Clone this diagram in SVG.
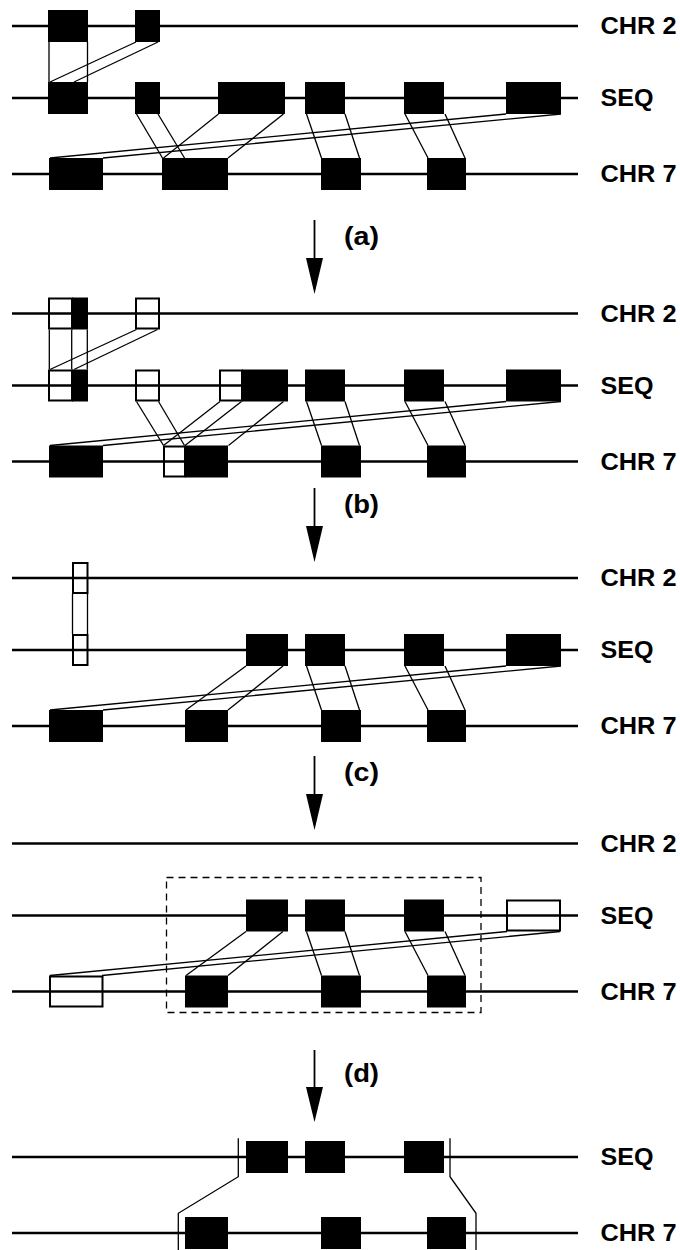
<svg xmlns="http://www.w3.org/2000/svg" width="680" height="1250" viewBox="0 0 680 1250">
  <style>
    .axis { stroke: #000; stroke-width: 2.3; fill: none; }
    .link { stroke: #000; stroke-width: 1.3; fill: none; }
    .blk { fill: #000; }
    .hollow { fill: none; stroke: #000; stroke-width: 2; }
    .lbl { font-family: "Liberation Sans", Arial, sans-serif; font-weight: bold; font-size: 23px; fill: #000; }
    .step { font-family: "Liberation Sans", Arial, sans-serif; font-weight: bold; font-size: 26px; fill: #000; }
    .shaft { stroke: #000; stroke-width: 1.8; }
    .dash { fill: none; stroke: #000; stroke-width: 1.3; stroke-dasharray: 7 5; }
  </style>
  <defs>
    <!-- shared track lines: CHR 2 at y=26, SEQ at y=98, CHR 7 at y=174 (panel-local) -->
    <line id="trkChr2" class="axis" x1="12" y1="26" x2="578" y2="26"/>
    <line id="trkSeq" class="axis" x1="12" y1="98" x2="578" y2="98"/>
    <line id="trkChr7" class="axis" x1="12" y1="174" x2="578" y2="174"/>
    <text id="lblChr2" class="lbl" x="600.5" y="34" textLength="76" lengthAdjust="spacingAndGlyphs">CHR 2</text>
    <text id="lblSeq" class="lbl" x="600.5" y="106" textLength="53" lengthAdjust="spacingAndGlyphs">SEQ</text>
    <text id="lblChr7" class="lbl" x="600.5" y="182" textLength="76" lengthAdjust="spacingAndGlyphs">CHR 7</text>
  </defs>

  <!-- ===== Panel 1 ===== -->
  <g id="panel1">
    <use href="#trkChr2"/><use href="#trkSeq"/><use href="#trkChr7"/>
    <use href="#lblChr2"/><use href="#lblSeq"/><use href="#lblChr7"/>
    <g id="p1-connectors">
      <line class="link" x1="49" y1="42" x2="49" y2="82"/>
      <line class="link" x1="87.5" y1="42" x2="87.5" y2="82"/>
      <line class="link" x1="136" y1="42" x2="50" y2="82"/>
      <line class="link" x1="158" y1="42" x2="74" y2="82"/>
      <line class="link" x1="136.5" y1="114" x2="162.5" y2="158"/>
      <line class="link" x1="158" y1="114" x2="184.5" y2="158"/>
      <line class="link" x1="218.5" y1="114" x2="163.5" y2="158"/>
      <line class="link" x1="283.5" y1="114" x2="228" y2="158"/>
      <line class="link" x1="306.5" y1="114" x2="321.5" y2="158"/>
      <line class="link" x1="345" y1="114" x2="359.5" y2="158"/>
      <line class="link" x1="405" y1="114" x2="428" y2="158"/>
      <line class="link" x1="445" y1="114" x2="465" y2="158"/>
      <line class="link" x1="506" y1="114" x2="50" y2="158"/>
      <line class="link" x1="561" y1="114" x2="103" y2="158"/>
    </g>
    <g id="p1-chr2">
      <rect id="p1-c2-1" class="blk" x="48" y="10" width="40" height="32"/>
      <rect id="p1-c2-2" class="blk" x="135" y="10" width="25" height="32"/>
    </g>
    <g id="p1-seq">
      <rect id="p1-s-A" class="blk" x="48" y="82" width="40" height="32"/>
      <rect id="p1-s-B" class="blk" x="135" y="82" width="25" height="32"/>
      <rect id="p1-s-C" class="blk" x="218" y="82" width="67" height="32"/>
      <rect id="p1-s-D" class="blk" x="305" y="82" width="40" height="32"/>
      <rect id="p1-s-E" class="blk" x="404" y="82" width="40" height="32"/>
      <rect id="p1-s-F" class="blk" x="506" y="82" width="55" height="32"/>
    </g>
    <g id="p1-chr7">
      <rect id="p1-c7-a" class="blk" x="49" y="158" width="54" height="32"/>
      <rect id="p1-c7-b" class="blk" x="162" y="158" width="66" height="32"/>
      <rect id="p1-c7-c" class="blk" x="321" y="158" width="40" height="32"/>
      <rect id="p1-c7-d" class="blk" x="427" y="158" width="39" height="32"/>
    </g>
  </g>

  <!-- step arrow (a) -->
  <g id="arrow-a">
    <line class="shaft" x1="314.5" y1="220" x2="314.5" y2="260"/>
    <polygon points="306,258 323,258 314.5,294" fill="#000"/>
    <text class="step" x="344" y="244.5" textLength="35" lengthAdjust="spacingAndGlyphs">(a)</text>
  </g>

  <!-- ===== Panel 2 ===== -->
  <g id="panel2" transform="translate(0,287.5)">
    <use href="#trkChr2"/><use href="#trkSeq"/><use href="#trkChr7"/>
    <use href="#lblChr2"/><use href="#lblSeq"/><use href="#lblChr7"/>
    <g id="p2-connectors">
      <line class="link" x1="49.3" y1="42" x2="49.3" y2="82"/>
      <line class="link" x1="71.7" y1="42" x2="71.7" y2="82"/>
      <line class="link" x1="87.3" y1="42" x2="87.3" y2="82"/>
      <line class="link" x1="136.5" y1="42" x2="50" y2="82"/>
      <line class="link" x1="157.5" y1="42" x2="74" y2="82"/>
      <line class="link" x1="136.5" y1="114" x2="163.5" y2="158"/>
      <line class="link" x1="158.5" y1="114" x2="184.5" y2="158"/>
      <line class="link" x1="220" y1="114" x2="163.5" y2="158"/>
      <line class="link" x1="241.5" y1="114" x2="185" y2="158"/>
      <line class="link" x1="283.5" y1="114" x2="228.5" y2="158"/>
      <line class="link" x1="306.5" y1="114" x2="321.5" y2="158"/>
      <line class="link" x1="345" y1="114" x2="359.5" y2="158"/>
      <line class="link" x1="405" y1="114" x2="428" y2="158"/>
      <line class="link" x1="445" y1="114" x2="465" y2="158"/>
      <line class="link" x1="506" y1="114" x2="50" y2="158"/>
      <line class="link" x1="561" y1="114" x2="103" y2="158"/>
    </g>
    <g id="p2-chr2">
      <rect id="p2-c2-1b" class="blk" x="72" y="10" width="16" height="32"/>
      <rect id="p2-c2-1w" class="hollow" x="49" y="11" width="23" height="30"/>
      <rect id="p2-c2-2w" class="hollow" x="136" y="11" width="23" height="30"/>
    </g>
    <g id="p2-seq">
      <rect id="p2-s-Ab" class="blk" x="72" y="82" width="16" height="32"/>
      <rect id="p2-s-Aw" class="hollow" x="49" y="83" width="23" height="30"/>
      <rect id="p2-s-Bw" class="hollow" x="136" y="83" width="23" height="30"/>
      <rect id="p2-s-Cb" class="blk" x="242" y="82" width="46" height="32"/>
      <rect id="p2-s-Cw" class="hollow" x="220" y="83" width="22" height="30"/>
      <rect id="p2-s-D" class="blk" x="305" y="82" width="40" height="32"/>
      <rect id="p2-s-E" class="blk" x="404" y="82" width="40" height="32"/>
      <rect id="p2-s-F" class="blk" x="506" y="82" width="55" height="32"/>
    </g>
    <g id="p2-chr7">
      <rect id="p2-c7-a" class="blk" x="49" y="158" width="54" height="32"/>
      <rect id="p2-c7-bb" class="blk" x="185" y="158" width="43" height="32"/>
      <rect id="p2-c7-bw" class="hollow" x="164" y="159" width="21" height="30"/>
      <rect id="p2-c7-c" class="blk" x="321" y="158" width="40" height="32"/>
      <rect id="p2-c7-d" class="blk" x="427" y="158" width="39" height="32"/>
    </g>
  </g>

  <!-- step arrow (b) -->
  <g id="arrow-b">
    <line class="shaft" x1="314.5" y1="488" x2="314.5" y2="528"/>
    <polygon points="306,526 323,526 314.5,562" fill="#000"/>
    <text class="step" x="344" y="512.5" textLength="35" lengthAdjust="spacingAndGlyphs">(b)</text>
  </g>

  <!-- ===== Panel 3 ===== -->
  <g id="panel3" transform="translate(0,552)">
    <use href="#trkChr2"/><use href="#trkSeq"/><use href="#trkChr7"/>
    <use href="#lblChr2"/><use href="#lblSeq"/><use href="#lblChr7"/>
    <g id="p3-connectors">
      <line class="link" x1="72.5" y1="42" x2="72.5" y2="82"/>
      <line class="link" x1="87.5" y1="42" x2="87.5" y2="82"/>
      <line class="link" x1="246" y1="114" x2="186" y2="158"/>
      <line class="link" x1="283" y1="114" x2="228" y2="158"/>
      <line class="link" x1="306.5" y1="114" x2="321.5" y2="158"/>
      <line class="link" x1="345" y1="114" x2="359.5" y2="158"/>
      <line class="link" x1="405" y1="114" x2="428" y2="158"/>
      <line class="link" x1="445" y1="114" x2="465" y2="158"/>
      <line class="link" x1="506" y1="114" x2="50" y2="158"/>
      <line class="link" x1="561" y1="114" x2="103" y2="158"/>
    </g>
    <g id="p3-chr2">
      <rect id="p3-c2-w" class="hollow" x="73" y="11" width="14.5" height="30"/>
    </g>
    <g id="p3-seq">
      <rect id="p3-s-w" class="hollow" x="73" y="83" width="14.5" height="30"/>
      <rect id="p3-s-C" class="blk" x="246" y="82" width="42" height="32"/>
      <rect id="p3-s-D" class="blk" x="305" y="82" width="40" height="32"/>
      <rect id="p3-s-E" class="blk" x="404" y="82" width="40" height="32"/>
      <rect id="p3-s-F" class="blk" x="506" y="82" width="55" height="32"/>
    </g>
    <g id="p3-chr7">
      <rect id="p3-c7-a" class="blk" x="49" y="158" width="54" height="32"/>
      <rect id="p3-c7-b" class="blk" x="185" y="158" width="43" height="32"/>
      <rect id="p3-c7-c" class="blk" x="321" y="158" width="40" height="32"/>
      <rect id="p3-c7-d" class="blk" x="427" y="158" width="39" height="32"/>
    </g>
  </g>

  <!-- step arrow (c) -->
  <g id="arrow-c">
    <line class="shaft" x1="314.5" y1="756" x2="314.5" y2="796"/>
    <polygon points="306,794 323,794 314.5,830" fill="#000"/>
    <text class="step" x="344" y="780.5" textLength="35" lengthAdjust="spacingAndGlyphs">(c)</text>
  </g>

  <!-- ===== Panel 4 ===== -->
  <g id="panel4" transform="translate(0,817.5)">
    <use href="#trkChr2"/><use href="#trkSeq"/><use href="#trkChr7"/>
    <use href="#lblChr2"/><use href="#lblSeq"/><use href="#lblChr7"/>
    <rect id="p4-region" class="dash" x="166.5" y="60" width="314.5" height="135"/>
    <g id="p4-connectors">
      <line class="link" x1="246" y1="114" x2="186" y2="158"/>
      <line class="link" x1="283" y1="114" x2="228" y2="158"/>
      <line class="link" x1="306.5" y1="114" x2="321.5" y2="158"/>
      <line class="link" x1="345" y1="114" x2="359.5" y2="158"/>
      <line class="link" x1="405" y1="114" x2="428" y2="158"/>
      <line class="link" x1="445" y1="114" x2="465" y2="158"/>
      <line class="link" x1="507" y1="114" x2="50" y2="158"/>
      <line class="link" x1="560" y1="114" x2="102" y2="158"/>
    </g>
    <g id="p4-seq">
      <rect id="p4-s-C" class="blk" x="246" y="82" width="42" height="32"/>
      <rect id="p4-s-D" class="blk" x="305" y="82" width="40" height="32"/>
      <rect id="p4-s-E" class="blk" x="404" y="82" width="40" height="32"/>
      <rect id="p4-s-F" class="hollow" x="507" y="83" width="53" height="30"/>
    </g>
    <g id="p4-chr7">
      <rect id="p4-c7-a" class="hollow" x="50" y="159" width="52.5" height="30"/>
      <rect id="p4-c7-b" class="blk" x="185" y="158" width="43" height="32"/>
      <rect id="p4-c7-c" class="blk" x="321" y="158" width="40" height="32"/>
      <rect id="p4-c7-d" class="blk" x="427" y="158" width="39" height="32"/>
    </g>
  </g>

  <!-- step arrow (d) -->
  <g id="arrow-d">
    <line class="shaft" x1="314.5" y1="1050" x2="314.5" y2="1090"/>
    <polygon points="306,1087 323,1087 314.5,1122" fill="#000"/>
    <text class="step" x="344" y="1082" textLength="35" lengthAdjust="spacingAndGlyphs">(d)</text>
  </g>

  <!-- ===== Panel 5 ===== -->
  <g id="panel5" transform="translate(0,1059)">
    <use href="#trkSeq"/><use href="#trkChr7"/>
    <use href="#lblSeq"/><use href="#lblChr7"/>
    <g id="p5-connectors">
      <polyline class="link" points="238.3,79.3 238.3,117.7 178.3,154.3 178.3,192"/>
      <polyline class="link" points="450,79.3 450,117.7 476,154.3 476,192"/>
    </g>
    <g id="p5-seq">
      <rect id="p5-s-C" class="blk" x="246" y="82" width="42" height="32"/>
      <rect id="p5-s-D" class="blk" x="305" y="82" width="40" height="32"/>
      <rect id="p5-s-E" class="blk" x="404" y="82" width="40" height="32"/>
    </g>
    <g id="p5-chr7">
      <rect id="p5-c7-b" class="blk" x="185" y="158" width="43" height="32"/>
      <rect id="p5-c7-c" class="blk" x="321" y="158" width="40" height="32"/>
      <rect id="p5-c7-d" class="blk" x="427" y="158" width="39" height="32"/>
    </g>
  </g>
</svg>
